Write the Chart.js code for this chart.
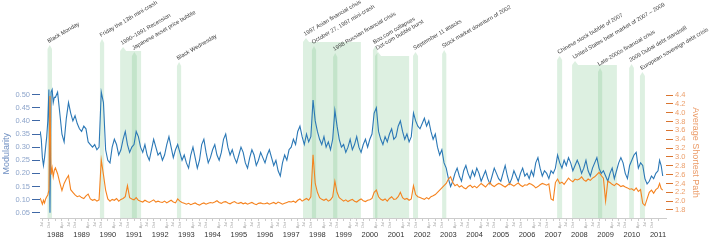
<!DOCTYPE html>
<html>
<head>
<meta charset="utf-8">
<script src="https://cdn.jsdelivr.net/npm/chart.js@4.4.0/dist/chart.umd.min.js"></script>
<style>
  body { margin: 0; background: #fff; }
  canvas { display: block; }
</style>
</head>
<body>
<canvas id="chart" width="710" height="240"></canvas>
<script>
// one row per calendar year, values spread evenly across that year
const years = [1987, 1988, 1989, 1990, 1991, 1992, 1993, 1994, 1995, 1996, 1997, 1998,
  1999, 2000, 2001, 2002, 2003, 2004, 2005, 2006, 2007, 2008, 2009, 2010, 2011];
const seriesStart = 1987.42;
const seriesEnd = 2011.18;

const modularity = [
  [0.36, 0.33, 0.26, 0.23, 0.26, 0.30, 0.34, 0.40, 0.52, 0.05, 0.51, 0.52, 0.47, 0.49],
  [0.49, 0.51, 0.43, 0.35, 0.32, 0.41, 0.47, 0.43, 0.40, 0.42, 0.39, 0.37],
  [0.36, 0.38, 0.37, 0.32, 0.31, 0.30, 0.31, 0.29, 0.30, 0.51, 0.47, 0.29],
  [0.25, 0.24, 0.30, 0.33, 0.31, 0.27, 0.29, 0.33, 0.36, 0.31, 0.28, 0.30],
  [0.31, 0.36, 0.34, 0.30, 0.28, 0.31, 0.27, 0.25, 0.29, 0.33, 0.30, 0.27],
  [0.28, 0.25, 0.27, 0.31, 0.34, 0.30, 0.26, 0.29, 0.31, 0.28, 0.25, 0.27],
  [0.24, 0.22, 0.27, 0.30, 0.26, 0.22, 0.25, 0.31, 0.33, 0.28, 0.24, 0.26],
  [0.29, 0.31, 0.27, 0.25, 0.28, 0.33, 0.35, 0.30, 0.27, 0.29, 0.26, 0.24],
  [0.27, 0.30, 0.28, 0.24, 0.22, 0.26, 0.29, 0.27, 0.23, 0.25, 0.28, 0.26],
  [0.24, 0.27, 0.29, 0.26, 0.23, 0.25, 0.21, 0.19, 0.24, 0.27, 0.25, 0.29],
  [0.30, 0.33, 0.31, 0.36, 0.38, 0.34, 0.31, 0.35, 0.32, 0.34, 0.48, 0.40],
  [0.36, 0.33, 0.31, 0.34, 0.30, 0.32, 0.29, 0.33, 0.44, 0.38, 0.33, 0.30],
  [0.31, 0.28, 0.30, 0.33, 0.29, 0.31, 0.34, 0.30, 0.28, 0.31, 0.33, 0.30],
  [0.33, 0.35, 0.43, 0.45, 0.36, 0.33, 0.31, 0.34, 0.32, 0.35, 0.37, 0.33],
  [0.34, 0.38, 0.40, 0.36, 0.33, 0.35, 0.32, 0.34, 0.43, 0.40, 0.38, 0.37],
  [0.39, 0.41, 0.38, 0.40, 0.36, 0.33, 0.35, 0.30, 0.27, 0.29, 0.24, 0.22],
  [0.18, 0.15, 0.17, 0.20, 0.22, 0.19, 0.17, 0.21, 0.23, 0.20, 0.18, 0.21],
  [0.19, 0.22, 0.20, 0.17, 0.19, 0.21, 0.18, 0.16, 0.19, 0.22, 0.20, 0.18],
  [0.17, 0.20, 0.23, 0.19, 0.16, 0.18, 0.21, 0.19, 0.17, 0.20, 0.22, 0.19],
  [0.20, 0.18, 0.21, 0.19, 0.24, 0.26, 0.22, 0.19, 0.21, 0.20, 0.18, 0.21],
  [0.20, 0.22, 0.27, 0.24, 0.22, 0.25, 0.23, 0.26, 0.24, 0.21, 0.23, 0.25],
  [0.23, 0.20, 0.22, 0.25, 0.21, 0.19, 0.22, 0.24, 0.26, 0.22, 0.20, 0.21],
  [0.19, 0.17, 0.20, 0.22, 0.18, 0.21, 0.24, 0.26, 0.24, 0.20, 0.18, 0.23],
  [0.25, 0.27, 0.28, 0.22, 0.24, 0.23, 0.18, 0.16, 0.17, 0.19, 0.18, 0.20],
  [0.21, 0.25, 0.23, 0.19]
];

const shortestPath = [
  [2.07, 2.00, 1.93, 2.02, 1.96, 2.05, 2.10, 2.14, 2.25, 4.38, 2.60, 2.75, 2.55, 2.70],
  [2.75, 2.62, 2.42, 2.24, 2.40, 2.50, 2.58, 2.26, 2.20, 2.14, 2.10, 2.12],
  [2.08, 2.06, 2.12, 2.16, 2.05, 2.02, 2.04, 2.00, 2.03, 2.93, 2.60, 2.25],
  [2.05, 2.00, 2.04, 2.02, 2.06, 2.00, 2.04, 2.06, 2.10, 2.35, 2.08, 2.05],
  [2.03, 2.08, 2.02, 2.00, 1.98, 2.02, 1.99, 1.97, 2.00, 2.03, 1.98, 2.00],
  [1.98, 1.97, 2.00, 1.96, 1.99, 2.02, 1.98, 1.96, 2.05, 2.00, 1.97, 1.95],
  [1.93, 1.95, 1.92, 1.94, 1.96, 1.93, 1.91, 1.94, 1.96, 1.93, 1.95, 1.97],
  [1.96, 1.98, 2.01, 1.97, 1.95, 1.98, 1.99, 1.96, 1.94, 1.97, 1.99, 1.96],
  [1.95, 1.97, 1.94, 1.96, 1.93, 1.95, 1.97, 1.94, 1.92, 1.95, 1.96, 1.94],
  [1.94, 1.96, 1.93, 1.95, 1.97, 1.94, 1.98, 1.96, 1.93, 1.95, 1.97, 1.99],
  [1.98, 2.00, 1.97, 2.02, 2.05, 2.00, 2.03, 2.06, 2.02, 2.10, 3.05, 2.40],
  [2.20, 2.08, 2.04, 2.02, 2.05, 2.00, 2.03, 2.10, 2.45, 2.20, 2.08, 2.04],
  [2.00, 2.03, 1.99, 2.02, 2.04, 2.00, 1.98, 2.02, 2.05, 2.01, 1.99, 2.02],
  [2.03, 2.06, 2.20, 2.25, 2.10, 2.04, 2.02, 2.05, 2.00, 2.06, 2.10, 2.04],
  [2.05, 2.10, 2.20, 2.08, 2.04, 2.06, 2.02, 2.05, 2.35, 2.15, 2.10, 2.08],
  [2.06, 2.04, 2.08, 2.05, 2.10, 2.12, 2.15, 2.20, 2.25, 2.30, 2.35, 2.40],
  [2.50, 2.55, 2.42, 2.35, 2.38, 2.32, 2.35, 2.30, 2.28, 2.33, 2.36, 2.31],
  [2.34, 2.30, 2.35, 2.40, 2.36, 2.32, 2.38, 2.42, 2.36, 2.33, 2.37, 2.40],
  [2.38, 2.35, 2.32, 2.36, 2.40, 2.37, 2.34, 2.38, 2.41, 2.36, 2.33, 2.37],
  [2.36, 2.40, 2.38, 2.35, 2.30, 2.33, 2.37, 2.40, 2.38, 2.36, 2.39, 2.05],
  [2.02, 2.42, 2.50, 2.40, 2.43, 2.38, 2.45, 2.52, 2.47, 2.44, 2.50, 2.48],
  [2.50, 2.55, 2.48, 2.45, 2.50, 2.47, 2.52, 2.55, 2.60, 2.65, 2.58, 2.52],
  [2.00, 2.45, 2.42, 2.38, 2.35, 2.40, 2.37, 2.33, 2.35, 2.32, 2.30, 2.27],
  [2.28, 2.24, 2.30, 2.22, 2.26, 1.95, 1.90, 2.05, 2.20, 2.25, 2.18, 2.26],
  [2.30, 2.40, 2.28, 2.25]
];

// market events (decimal years)
const eventNames = ['Black Monday', 'Friday the 13th mini-crash', '1990–1991 Recession',
  'Japanese asset price bubble', 'Black Wednesday', '1997 Asian financial crisis',
  'October 27, 1997 mini-crash', '1998 Russian financial crisis', 'Boo.com collapses',
  'Dot-com bubble burst', 'September 11 attacks', 'Stock market downturn of 2002',
  'Chinese stock bubble of 2007', 'United States bear market of 2007 – 2009',
  'Late-2000s financial crisis', '2009 Dubai debt standstill', 'European sovereign debt crisis'];
const eventStart = [1987.70, 1989.70, 1990.47, 1990.92, 1992.64, 1997.45, 1997.79, 1998.60,
  2000.12, 2000.20, 2001.65, 2002.76, 2007.15, 2007.72, 2008.71, 2009.90, 2010.31];
const eventEnd = [1987.87, 1989.86, 1991.27, 1991.11, 1992.80, 1999.66, 1997.95, 1998.76,
  2000.29, 2001.50, 2001.84, 2002.92, 2007.34, 2009.43, 2008.87, 2010.08, 2010.50];

const modTicks = [0.05, 0.10, 0.15, 0.20, 0.25, 0.30, 0.35, 0.40, 0.45, 0.50];
const pathTicks = [1.8, 2.0, 2.2, 2.4, 2.6, 2.8, 3.0, 3.2, 3.4, 3.6, 3.8, 4.0, 4.2, 4.4];
const yearTicks = years.slice(1);
const quarterNames = ['', 'Apr', 'Jul', 'Oct'];

// label stagger, px from the top of the canvas
const bandPeaks = [45, 39, 47, 52, 62, 38, 46, 53, 46, 52, 52, 50, 56, 61, 68, 64, 72];
const FONT = '"Liberation Sans", Arial, sans-serif';
const BAND_FILL = 'rgba(120, 195, 135, 0.25)';

function toPoints(rows) {
  const pts = [];
  rows.forEach((row, k) => {
    const a = Math.max(years[k], seriesStart);
    const last = k === rows.length - 1;
    const b = last ? seriesEnd : years[k] + 1;
    const n = last ? row.length - 1 : row.length;
    row.forEach((v, j) => pts.push({ x: a + (b - a) * j / n, y: v }));
  });
  return pts;
}

const quarterTicks = [];
for (let y = 1987; y <= 2011; y++) {
  for (let q = 0; q < 4; q++) {
    const v = y + q / 4;
    if (v >= 1987.5 && v <= 2011.01) quarterTicks.push(v);
  }
}

// shaded event bands with a small pointed cap and a slanted label
const eventBands = {
  id: 'eventBands',
  beforeDatasetsDraw(chart) {
    const { ctx, chartArea, scales: { x } } = chart;
    const cap = 4, capWidth = 6;
    ctx.save();
    eventNames.forEach((name, i) => {
      const x0 = x.getPixelForValue(eventStart[i]);
      const x1 = x.getPixelForValue(eventEnd[i]);
      const peak = bandPeaks[i];
      const body = peak + cap;
      const cw = Math.min(capWidth, x1 - x0);
      ctx.fillStyle = BAND_FILL;
      ctx.beginPath();
      ctx.moveTo(x0, chartArea.bottom);
      ctx.lineTo(x0, body);
      ctx.lineTo(x0 + cw / 2, peak);
      ctx.lineTo(x0 + cw, body);
      ctx.lineTo(x1, body);
      ctx.lineTo(x1, chartArea.bottom);
      ctx.closePath();
      ctx.fill();
    });
    ctx.fillStyle = '#3a3a3a';
    ctx.font = '5.7px ' + FONT;
    ctx.textBaseline = 'alphabetic';
    ctx.textAlign = 'left';
    eventNames.forEach((name, i) => {
      const x0 = x.getPixelForValue(eventStart[i]);
      const x1 = x.getPixelForValue(eventEnd[i]);
      const cw = Math.min(capWidth, x1 - x0);
      ctx.save();
      ctx.translate(x0 + cw / 2 - 1, bandPeaks[i] - 2);
      ctx.rotate(-0.53);
      ctx.fillText(name, 0, 0);
      ctx.restore();
    });
    ctx.restore();
  }
};

// axis titles centred on the labelled tick range
const axisTitles = {
  id: 'axisTitles',
  afterDraw(chart) {
    const { ctx, scales } = chart;
    const draw = (text, scale, ticks, x, rot, color) => {
      const cy = (scale.getPixelForValue(ticks[0]) + scale.getPixelForValue(ticks[ticks.length - 1])) / 2;
      ctx.save();
      ctx.font = '9px ' + FONT;
      ctx.textAlign = 'center';
      ctx.textBaseline = 'middle';
      ctx.fillStyle = color;
      ctx.translate(x, cy);
      ctx.rotate(rot);
      ctx.fillText(text, 0, 0);
      ctx.restore();
    };
    draw('Modularity', scales.y, modTicks, 7, -Math.PI / 2, '#6f8fc2');
    draw('Average Shortest Path', scales.y1, pathTicks, 695, Math.PI / 2, '#eb9a66');
  }
};

const xMin = 1987.412, xMax = 2011.305;

new Chart(document.getElementById('chart'), {
  type: 'line',
  data: {
    datasets: [{
      label: 'Average Shortest Path',
      data: toPoints(shortestPath),
      yAxisID: 'y1',
      borderColor: '#f5831f',
      borderWidth: 1.1,
      pointRadius: 0,
      order: 0
    }, {
      label: 'Modularity',
      data: toPoints(modularity),
      yAxisID: 'y',
      borderColor: '#2b78b6',
      borderWidth: 1.1,
      pointRadius: 0,
      order: 1
    }]
  },
  options: {
    responsive: false,
    animation: false,
    layout: { padding: { top: 20, left: 0, right: 0, bottom: 0 } },
    plugins: {
      legend: { display: false },
      tooltip: { enabled: false }
    },
    scales: {
      x: {
        type: 'linear', position: 'bottom', min: xMin, max: xMax,
        afterBuildTicks: s => { s.ticks = quarterTicks.map(v => ({ value: v })); },
        afterFit: s => { s.height = 11; },
        ticks: {
          autoSkip: false, minRotation: 90, maxRotation: 90, padding: 1,
          font: { size: 4, family: FONT }, color: '#aaa',
          callback: v => quarterNames[((Math.round(v * 4) % 4) + 4) % 4]
        },
        grid: { drawOnChartArea: false, drawTicks: true, tickLength: 3, color: '#ccc' },
        border: { display: true, color: '#ccc' }
      },
      x2: {
        type: 'linear', position: 'bottom', min: xMin, max: xMax,
        afterBuildTicks: s => { s.ticks = yearTicks.map(v => ({ value: v })); },
        afterFit: s => { s.height = 11; },
        ticks: {
          autoSkip: false, maxRotation: 0, padding: 1,
          font: { size: 7.5, family: FONT }, color: '#333',
          callback: v => String(v)
        },
        grid: { display: false, drawTicks: false },
        border: { display: false }
      },
      y: {
        type: 'linear', position: 'left', min: 0.0298, max: 0.7849,
        afterBuildTicks: s => { s.ticks = modTicks.map(v => ({ value: v })); },
        afterFit: s => { s.width = 40; },
        ticks: {
          padding: 2, font: { size: 7.5, family: FONT }, color: '#8ea5cb',
          callback: v => v.toFixed(2)
        },
        grid: { drawOnChartArea: false, tickLength: 8, color: '#3f68a6' },
        border: { display: false }
      },
      y1: {
        type: 'linear', position: 'right', min: 1.619, max: 6.096,
        afterBuildTicks: s => { s.ticks = pathTicks.map(v => ({ value: v })); },
        afterFit: s => { s.width = 44; },
        ticks: {
          padding: 2, font: { size: 7.5, family: FONT }, color: '#ec9f6b',
          callback: v => v.toFixed(1)
        },
        grid: { drawOnChartArea: false, tickLength: 7, color: '#d9742f' },
        border: { display: false }
      }
    }
  },
  plugins: [eventBands, axisTitles]
});
</script>
</body>
</html>
